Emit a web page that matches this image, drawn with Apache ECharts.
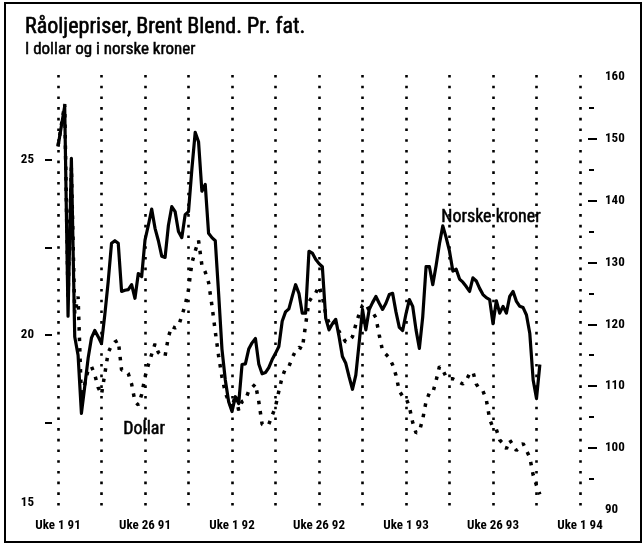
<!DOCTYPE html>
<html>
<head>
<meta charset="utf-8">
<script src="https://cdn.jsdelivr.net/npm/echarts@6/dist/echarts.min.js"></script>
<style>
html,body{margin:0;padding:0;background:#fff;}
#c{width:644px;height:546px;}
</style>
</head>
<body>
<div id="c"></div>
<script>
// Week index 0 = Uke 1 1991
var xTickWeeks = [0, 26, 52, 78, 104, 130, 156];
var xTickLabels = ['Uke 1 91', 'Uke 26 91', 'Uke 1 92', 'Uke 26 92', 'Uke 1 93', 'Uke 26 93', 'Uke 1 94'];
var leftLabels = [15, 20, 25];
var leftTicks = [17.5, 20, 22.5, 25];
var rightMajorTicks = [100, 110, 120, 130, 140, 150];
var rightMinorTicks = [95, 105, 115, 125, 135, 145, 155];

// Norske kroner per fat, weekly from Uke 1 1991
var kroner = [
  148.7, 152, 155.2, 121.3, 146.8, 118, 115, 105.6, 110, 114.5,
  117.8, 119, 118, 116.9, 121.6, 126.9, 133.1, 133.5, 133.1, 125.3,
  125.5, 125.6, 126.4, 124.2, 128.2, 127.7, 133.6, 136, 138.6, 135.5,
  133.5, 131, 130.8, 136, 139, 138.2, 135, 134, 137.7, 138.2,
  145, 151, 149.5, 141.5, 142.6, 134.7, 134, 133.5, 125, 116,
  111, 107.5, 105.9, 108.3, 107.2, 113.5, 113.6, 116, 117, 117.7,
  113.6, 112, 112.2, 113, 114.3, 115.3, 116.4, 120.5, 122, 122.5,
  124.5, 126.4, 125, 121.8, 121.8, 131.8, 131.5, 130.5, 129.8, 129.3,
  121, 119.1, 120.1, 120.8, 118, 114.8, 113.7, 111.5, 109.5, 111.8,
  117, 122.4, 119.1, 122.4, 123.5, 124.5, 123.4, 122.4, 123.4, 124.8,
  125, 122, 119.5, 119, 121.7, 124, 122.9, 119.1, 116.1, 121.2,
  129.3, 129.3, 126.4, 129.5, 133, 135.9, 134, 131.8, 128.6, 128.9,
  127.3, 126.8, 126.1, 125.3, 127.5, 127, 125.8, 124.8, 124.3, 124,
  120.1, 123.8, 121.8, 122.9, 121.8, 124.5, 125.3, 123.7, 122.9, 122.7,
  121.5, 118.5, 111, 108, 113.5
];

// Dollar per fat, weekly from Uke 1 1991
var dollar = [
  25.4, 26.0, 26.6, 21.0, 24.8, 20.6, 21.1, 18.2, 18.6, 19.0,
  19.1, 18.86, 18.5, 18.3, 18.9, 19.5, 19.7, 19.8, 19.85, 19.0,
  19.0, 18.9, 18.6, 18.1, 18.0, 18.3, 18.8, 19.15, 19.45, 19.75,
  19.5, 19.4, 19.4, 19.95, 20.25, 20.2, 20.25, 20.55, 20.85, 21.3,
  22.05, 22.4, 22.7, 22.0, 21.8, 21.5, 20.85, 20.1, 19.4, 18.8,
  18.35, 18.1, 17.9, 18.3, 17.85, 18.1, 18.15, 18.4, 18.5, 18.6,
  18.1, 17.45, 17.4, 17.45, 17.7, 17.95, 18.4, 18.8, 19.05, 19.1,
  19.35, 19.55, 19.65, 19.6, 20.3, 20.95, 21.1, 21.2, 21.4, 21.1,
  20.6, 20.35, 20.45, 20.3, 20.1, 19.95, 19.8, 19.85, 19.95, 20.3,
  20.6, 20.85, 20.9, 20.7, 20.65, 20.5, 20.0, 19.55, 19.45, 19.35,
  19.15, 18.85, 18.4, 18.25, 18.2, 17.95, 17.5, 17.2, 17.25, 17.6,
  18.1, 18.35, 18.35, 18.7, 19.1, 19.0, 18.8, 18.75, 18.75, 18.7,
  18.65, 18.6, 18.7, 18.9, 18.95, 18.6, 18.45, 18.4, 18.15, 17.6,
  17.35, 17.3, 17.0, 16.9, 16.75, 17.0, 16.85, 16.7, 16.8, 16.9,
  16.7, 16.5, 16.0, 15.7, 15.45
];

var FONT = "'Liberation Sans Narrow', 'Arial Narrow', 'Roboto Condensed', 'Liberation Sans', sans-serif";

function pairs(arr) {
  return arr.map(function (v, i) { return [i, v]; });
}

var chart = echarts.init(document.getElementById('c'), null, { renderer: 'canvas' });

var option = {
  animation: false,
  backgroundColor: '#fff',
  title: {
    text: 'Råoljepriser, Brent Blend. Pr. fat.',
    subtext: 'I dollar og i norske kroner',
    left: 20,
    top: 11,
    itemGap: 3,
    textStyle: { fontFamily: FONT, fontSize: 22, fontWeight: 'normal', color: '#000', textBorderColor: '#000', textBorderWidth: 0.6 },
    subtextStyle: { fontFamily: FONT, fontSize: 17, fontWeight: 'normal', color: '#000', textBorderColor: '#000', textBorderWidth: 0.5 }
  },
  grid: { left: 58, right: 64, top: 75, bottom: 36, show: false },
  xAxis: {
    type: 'value',
    min: 0,
    max: 156,
    interval: 13,
    axisLine: { show: false, onZero: false },
    axisTick: { show: false },
    axisLabel: {
      margin: 9,
      fontFamily: FONT,
      fontSize: 13,
      fontWeight: 'bold',
      color: '#000',
      formatter: function (v) {
        var k = xTickWeeks.indexOf(v);
        return k >= 0 ? xTickLabels[k] : '';
      }
    },
    splitLine: {
      show: true,
      lineStyle: { color: '#000', width: 2.6, type: [2.6, 8.1] }
    }
  },
  yAxis: [
    {
      type: 'value',
      position: 'left',
      min: 15,
      max: 27.43,
      interval: 2.5,
      offset: 6,
      axisLine: { show: false, onZero: false },
      axisTick: { show: true, length: 7, customValues: leftTicks, lineStyle: { color: '#000', width: 2 } },
      axisLabel: {
        margin: 18,
        customValues: leftLabels,
        fontFamily: FONT,
        fontSize: 13,
        fontWeight: 'bold',
        color: '#000',
        formatter: function (v) { return v === 15 ? '{lo|15}' : String(v); },
        rich: { lo: { fontFamily: FONT, fontSize: 13, fontWeight: 'bold', color: '#000', padding: [0, 0, 14, 0] } }
      },
      splitLine: { show: false }
    },
    {
      type: 'value',
      position: 'right',
      min: 90,
      max: 160.27,
      interval: 10,
      offset: 8,
      axisLine: { show: false, onZero: false },
      axisTick: { show: true, length: 9, customValues: rightMajorTicks, lineStyle: { color: '#000', width: 2 } },
      axisLabel: {
        margin: 17,
        fontFamily: FONT,
        fontSize: 13,
        fontWeight: 'bold',
        color: '#000',
        showMaxLabel: true,
        showMinLabel: true,
        formatter: function (v) { return (Math.abs(v % 10) < 1e-6) ? String(v) : ''; }
      },
      splitLine: { show: false }
    },
    {
      // minor tick marks, right side
      type: 'value',
      position: 'right',
      min: 90,
      max: 160.27,
      offset: 9,
      axisLine: { show: false, onZero: false },
      axisLabel: { show: false },
      splitLine: { show: false },
      axisTick: { show: true, length: 5, customValues: rightMinorTicks, lineStyle: { color: '#000', width: 2 } }
    }
  ],
  series: [
    {
      name: 'Dollar',
      type: 'line',
      yAxisIndex: 0,
      data: pairs(dollar),
      showSymbol: false,
      symbol: 'none',
      lineStyle: { color: '#000', width: 3.5, type: [3.5, 7], cap: 'butt' },
      z: 2
    },
    {
      name: 'Norske kroner',
      type: 'line',
      yAxisIndex: 1,
      data: pairs(kroner),
      showSymbol: false,
      symbol: 'none',
      lineStyle: { color: '#000', width: 3.2, join: 'round' },
      z: 3
    }
  ],
  graphic: [
    {
      type: 'rect',
      shape: { x: 5, y: 3, width: 636, height: 539 },
      style: { fill: 'none', stroke: '#000', lineWidth: 2 },
      silent: true
    },
    {
      type: 'text',
      left: 123, top: 420,
      style: { text: 'Dollar', font: '18px ' + FONT, fill: '#000', stroke: '#000', lineWidth: 0.5 }
    },
    {
      type: 'text',
      left: 441, top: 208,
      style: { text: 'Norske kroner', font: '18px ' + FONT, fill: '#000', stroke: '#000', lineWidth: 0.5 }
    }
  ]
};

chart.setOption(option);
</script>
</body>
</html>
